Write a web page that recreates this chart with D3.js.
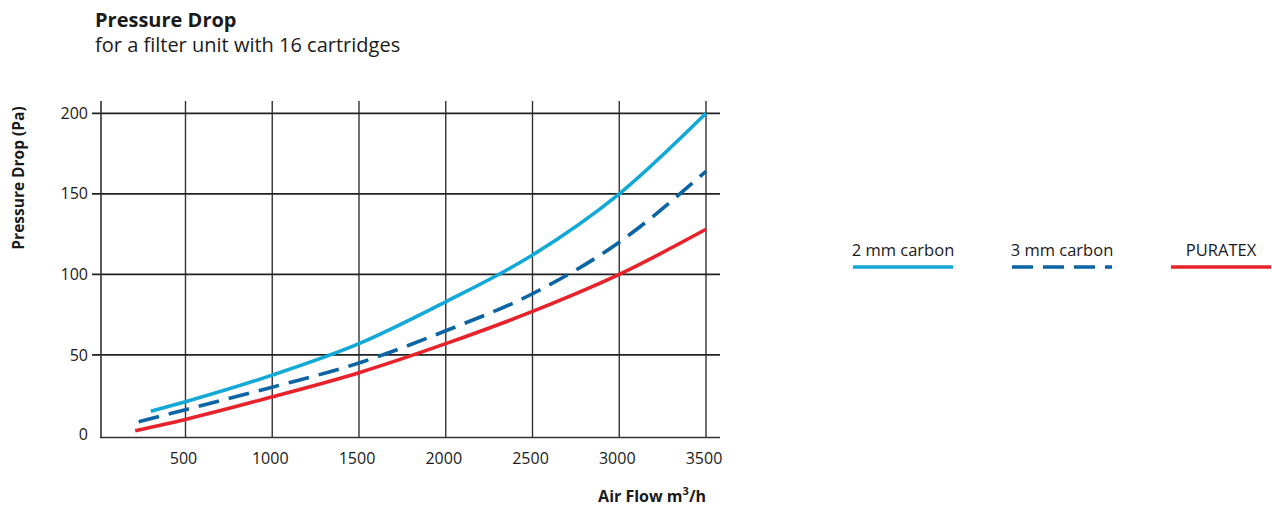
<!DOCTYPE html>
<html>
<head>
<meta charset="utf-8">
<script src="https://cdn.jsdelivr.net/npm/d3@7"></script>
<style>
  body { margin: 0; background: #fff; }
  svg { font-family: "Open Sans", "Noto Sans", sans-serif; }
</style>
</head>
<body>
<svg id="chart" width="1272" height="508"></svg>
<script>
// data
const flow2mm = [300, 500, 1000, 1500, 2000, 2500, 3000, 3500];
const drop2mm = [15, 21, 37.5, 57, 83, 112, 150, 200];
const flow3mm = [230, 500, 1000, 1500, 2000, 2500, 3000, 3500];
const drop3mm = [8.5, 16, 30, 45, 65, 88, 120, 164];
const flowPuratex = [210, 500, 1000, 1500, 2000, 2500, 3000, 3500];
const dropPuratex = [3, 10, 24, 39, 57, 77, 100, 128];

const xTicks = [500, 1000, 1500, 2000, 2500, 3000, 3500];
const yTicks = [0, 50, 100, 150, 200];

const seriesNames = ["2 mm carbon", "3 mm carbon", "PURATEX"];
const seriesColors = ["#12a9d7", "#0b64a3", "#e8222b"];

const svg = d3.select("#chart");

const x = d3.scaleLinear().domain([13, 3500]).range([101, 706]);
const y = d3.scaleLinear().domain([0, 200]).range([435.5, 113.3]);
const xEnd = 720, yTop = 101, yAxisPos = 437.5;

// titles
svg.append("text").attr("x", 95).attr("y", 27)
  .style("font-size", "20px").style("font-weight", "700").attr("fill", "#1a1a1a")
  .text("Pressure Drop");
svg.append("text").attr("x", 95).attr("y", 52)
  .style("font-size", "20px").attr("fill", "#1a1a1a")
  .text("for a filter unit with 16 cartridges");

const grid = svg.append("g");

// vertical grid lines
grid.selectAll("line.v").data(xTicks).enter().append("line")
  .attr("class", "v")
  .attr("x1", d => x(d)).attr("x2", d => x(d))
  .attr("y1", yTop).attr("y2", yAxisPos)
  .attr("stroke", "#333").attr("stroke-width", 1.4);

// horizontal grid lines (with tick stubs left of the axis)
grid.selectAll("line.h").data(yTicks.filter(d => d > 0)).enter().append("line")
  .attr("class", "h")
  .attr("x1", 92).attr("x2", xEnd)
  .attr("y1", d => y(d)).attr("y2", d => y(d))
  .attr("stroke", "#222").attr("stroke-width", 1.7);

// axes
grid.append("line").attr("x1", 101).attr("x2", 101).attr("y1", yTop).attr("y2", yAxisPos)
  .attr("stroke", "#333").attr("stroke-width", 1.6);
grid.append("line").attr("x1", 100).attr("x2", xEnd).attr("y1", yAxisPos).attr("y2", yAxisPos)
  .attr("stroke", "#333").attr("stroke-width", 1.6);

// tick labels
svg.selectAll("text.yt").data(yTicks).enter().append("text")
  .attr("class", "yt")
  .attr("x", 88).attr("y", d => d === 0 ? 434 : y(d))
  .attr("dy", "0.35em").attr("text-anchor", "end")
  .style("font-size", "16px").attr("fill", "#1a1a1a")
  .text(d => d);

svg.selectAll("text.xt").data(xTicks).enter().append("text")
  .attr("class", "xt")
  .attr("x", d => x(d) - 2).attr("y", 458)
  .attr("dy", "0.35em").attr("text-anchor", "middle")
  .style("font-size", "16px").attr("fill", "#1a1a1a")
  .text(d => d);

// axis titles
svg.append("text")
  .attr("transform", "translate(24,178) rotate(-90)")
  .attr("text-anchor", "middle")
  .style("font-size", "15.5px").style("font-weight", "700").attr("fill", "#1a1a1a")
  .text("Pressure Drop (Pa)");

const xt = svg.append("text").attr("x", 706).attr("y", 502)
  .attr("text-anchor", "end")
  .style("font-size", "16px").style("font-weight", "700").attr("fill", "#1a1a1a");
xt.append("tspan").text("Air Flow m");
xt.append("tspan").attr("dy", -7).style("font-size", "11px").text("3");
xt.append("tspan").attr("dy", 7).text("/h");

// curves
const line = d3.line().x(d => x(d[0])).y(d => y(d[1])).curve(d3.curveMonotoneX);
const series = [
  d3.zip(flow2mm, drop2mm),
  d3.zip(flow3mm, drop3mm),
  d3.zip(flowPuratex, dropPuratex)
];
const dashes = [null, "21 10", null];

svg.append("g").selectAll("path").data(series).enter().append("path")
  .attr("d", line)
  .attr("fill", "none")
  .attr("stroke", (d, i) => seriesColors[i])
  .attr("stroke-width", 3.6)
  .attr("stroke-dasharray", (d, i) => dashes[i]);

// legend
const legendX = [853, 1012, 1171];
const legend = svg.append("g");
legend.selectAll("line").data(seriesNames).enter().append("line")
  .attr("x1", (d, i) => legendX[i]).attr("x2", (d, i) => legendX[i] + 100)
  .attr("y1", 267).attr("y2", 267)
  .attr("stroke", (d, i) => seriesColors[i])
  .attr("stroke-width", 3.4)
  .attr("stroke-dasharray", (d, i) => dashes[i]);
legend.selectAll("text").data(seriesNames).enter().append("text")
  .attr("x", (d, i) => legendX[i] + 50).attr("y", 256)
  .attr("text-anchor", "middle")
  .style("font-size", "16.5px").attr("fill", "#1a1a1a")
  .text(d => d);
</script>
</body>
</html>
